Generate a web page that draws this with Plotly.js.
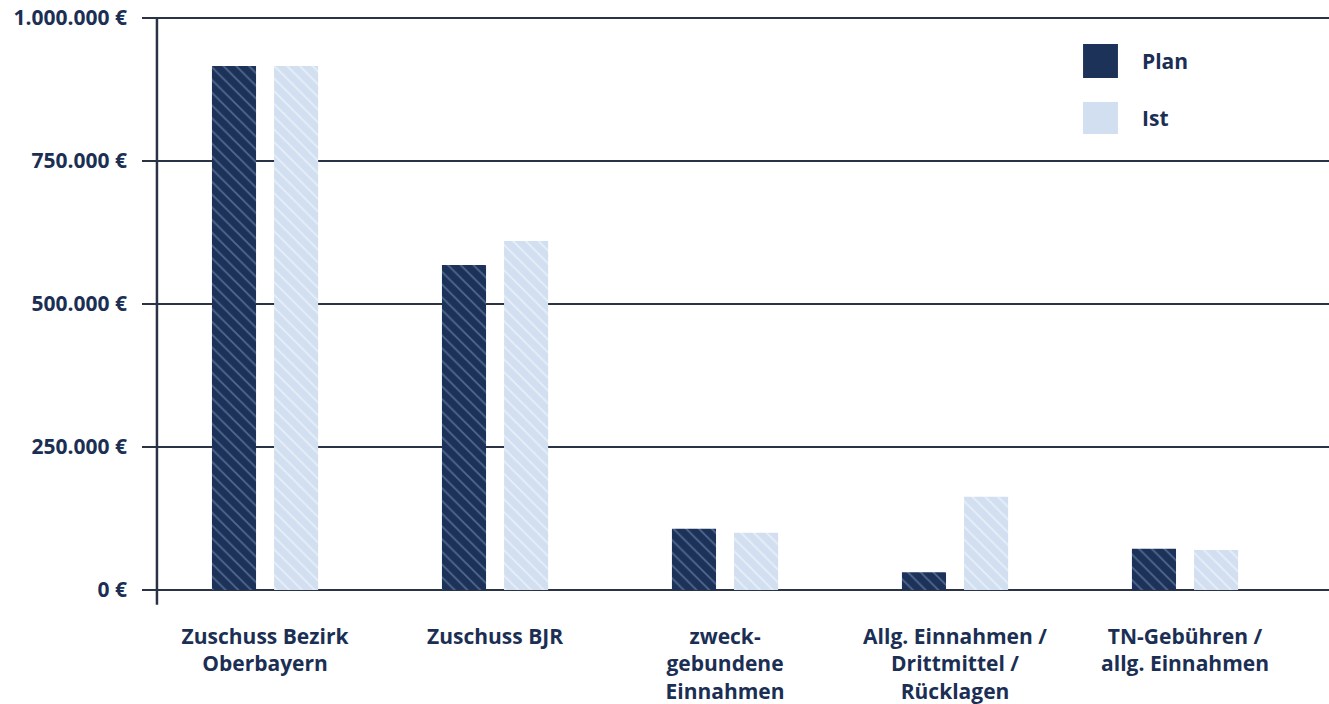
<!DOCTYPE html>
<html>
<head>
<meta charset="utf-8">
<script src="https://cdn.plot.ly/plotly-3.0.1.min.js"></script>
<style>
  html, body { margin: 0; padding: 0; background: #ffffff; }
  #chart { width: 1329px; height: 704px; }
</style>
</head>
<body>
<div id="chart"></div>
<script>
// Einnahmen: Plan vs. Ist
const categories = [
  'Zuschuss Bezirk<br>Oberbayern',
  'Zuschuss BJR',
  'zweck-<br>gebundene<br>Einnahmen',
  'Allg. Einnahmen /<br>Drittmittel /<br>Rücklagen',
  'TN-Gebühren /<br>allg. Einnahmen'
];
const seriesNames = ['Plan', 'Ist'];
const planValues = [916000, 568000, 107000, 31000, 72000];
const istValues  = [916000, 610000, 100000, 163000, 70000];
const tickValues = [0, 250000, 500000, 750000, 1000000];
const tickLabels = ['0 €', '250.000 €', '500.000 €', '750.000 €', '1.000.000 €'];

const navy = '#1d3258';
const light = '#d2dff1';
const textColor = '#1b2f54';
const fontFamily = '"Source Sans Pro", "Open Sans", Lato, sans-serif';

const traces = [
  {
    type: 'bar', name: seriesNames[0], x: categories, y: planValues,
    marker: {
      color: navy,
      pattern: { shape: '\\', bgcolor: navy, fgcolor: '#7f97bd', fgopacity: 0.55, size: 9, solidity: 0.18 }
    },
    hoverinfo: 'skip'
  },
  {
    type: 'bar', name: seriesNames[1], x: categories, y: istValues,
    marker: {
      color: light,
      pattern: { shape: '\\', bgcolor: light, fgcolor: '#eef3fa', fgopacity: 0.8, size: 9, solidity: 0.18 }
    },
    hoverinfo: 'skip'
  }
];

// hand-made legend boxes with labels
const legendBoxes = [
  { y0: 0.8867, y1: 0.9433, color: navy },
  { y0: 0.7933, y1: 0.8467, color: light }
];
const shapes = legendBoxes.map(b => ({
  type: 'rect', xref: 'paper', yref: 'paper',
  x0: 0.7928, x1: 0.8222, y0: b.y0, y1: b.y1,
  fillcolor: b.color, line: { width: 0 }
}));
// left axis stroke, running slightly below the zero line
shapes.push({
  type: 'line', xref: 'paper', yref: 'y',
  x0: 0.0126, x1: 0.0126, y0: -26000, y1: 1000000,
  line: { color: '#2a3345', width: 2.5 }
});

const annotations = seriesNames.map((name, i) => ({
  xref: 'paper', yref: 'paper', x: 0.8408, y: i === 0 ? 0.915 : 0.82,
  xanchor: 'left', yanchor: 'middle', showarrow: false,
  text: '<b>' + name + '</b>',
  font: { family: fontFamily, size: 21, color: textColor }
}));

const layout = {
  width: 1329, height: 704,
  margin: { l: 142, r: 0, t: 10, b: 94 },
  paper_bgcolor: '#ffffff', plot_bgcolor: '#ffffff',
  barmode: 'group', bargap: 0.46, bargroupgap: 0.29,
  showlegend: false,
  font: { family: fontFamily, color: textColor },
  xaxis: {
    type: 'category', range: [-0.535, 4.626],
    showgrid: false, zeroline: false, showline: false, ticks: '',
    tickfont: { family: fontFamily, size: 21, color: textColor, weight: 'bold' },
    ticklabelstandoff: 12
  },
  yaxis: {
    range: [-34965, 1013986],
    tickvals: tickValues, ticktext: tickLabels,
    showgrid: true, gridcolor: '#2a3345', gridwidth: 2.2,
    zeroline: false, showline: false, ticks: '',
    tickfont: { family: fontFamily, size: 21, color: textColor, weight: 'bold' },
    ticklabelstandoff: 14
  },
  shapes: shapes,
  annotations: annotations
};

Plotly.newPlot('chart', traces, layout, { displayModeBar: false, staticPlot: true });
</script>
</body>
</html>
